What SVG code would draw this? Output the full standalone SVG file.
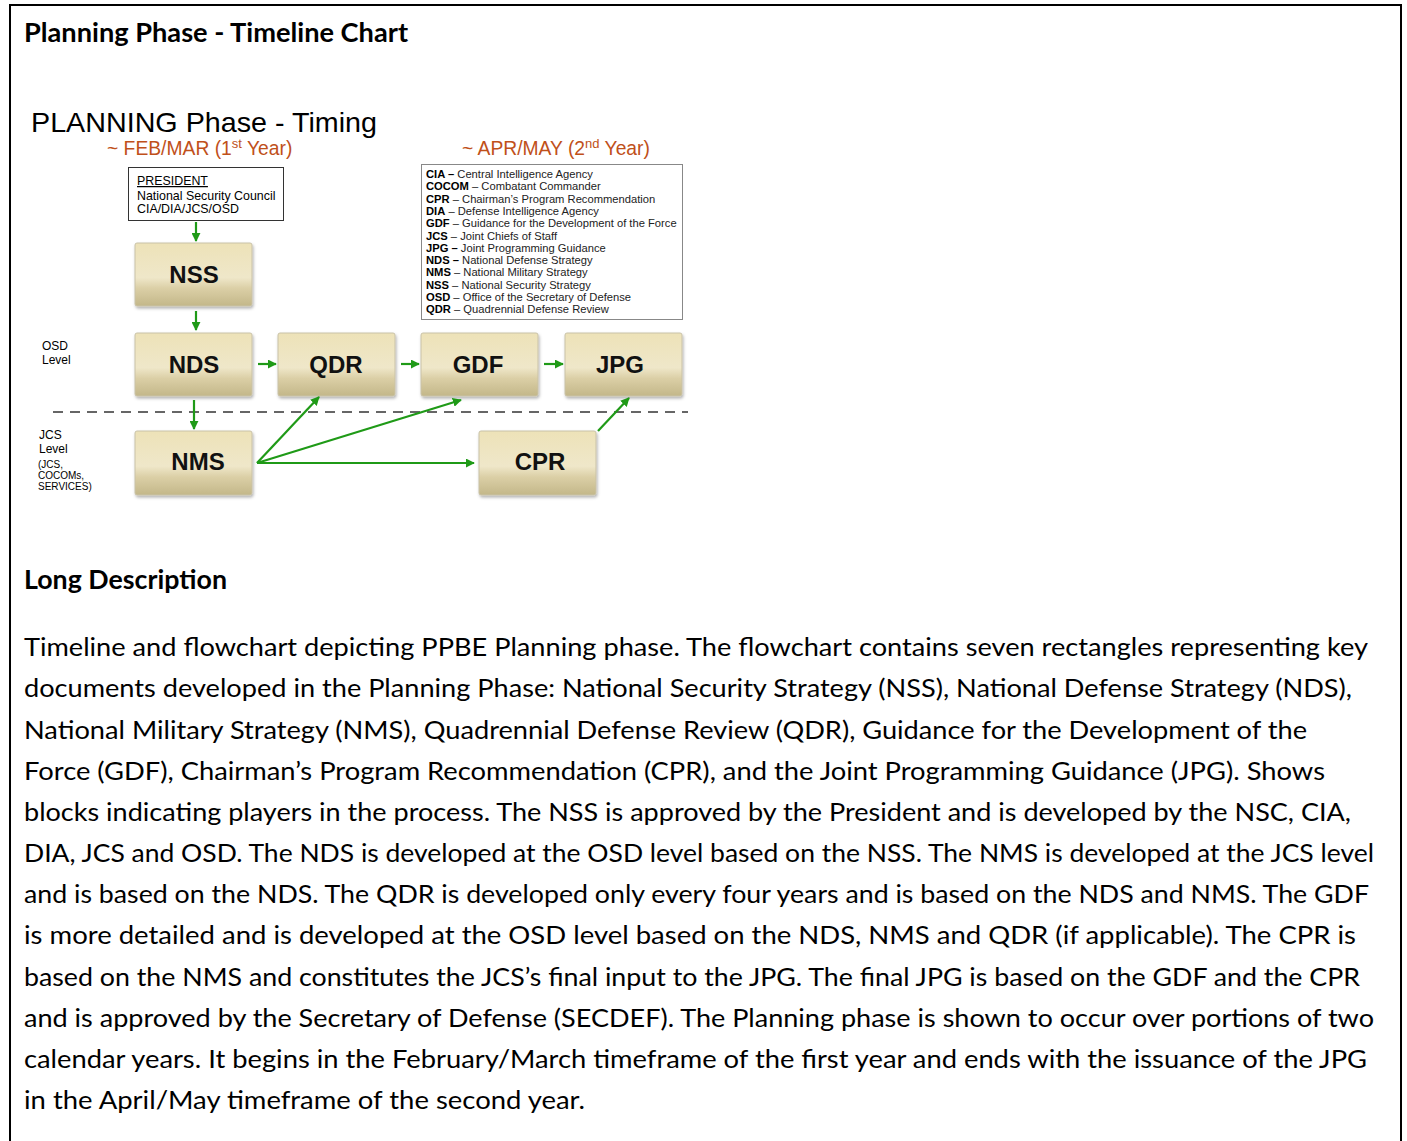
<svg xmlns="http://www.w3.org/2000/svg" width="1407" height="1141" viewBox="0 0 1407 1141">
<defs>
<linearGradient id="beige" x1="0" y1="0" x2="0" y2="1">
<stop offset="0" stop-color="#ede2b8"/>
<stop offset="0.55" stop-color="#efe7c9"/>
<stop offset="0.72" stop-color="#dbcfa6"/>
<stop offset="1" stop-color="#c3b789"/>
</linearGradient>
<filter id="sh" x="-10%" y="-10%" width="125%" height="130%">
<feDropShadow dx="1" dy="2" stdDeviation="1.5" flood-color="#000" flood-opacity="0.3"/>
</filter>
<marker id="ah" viewBox="0 0 10 10" refX="9" refY="5" markerWidth="9" markerHeight="9" markerUnits="userSpaceOnUse" orient="auto">
<path d="M0,0 L10,5 L0,10 Z" fill="#1f9a17"/>
</marker>
</defs>
<style>
.body{font-family:Lato,"Open Sans",sans-serif;font-size:25px;fill:#000}
.hd{font-family:Lato,"Open Sans",sans-serif;font-size:26px;font-weight:bold;fill:#000}
.ar{font-family:"Liberation Sans",Arial,sans-serif;fill:#000}
.org{font-family:"Liberation Sans",Arial,sans-serif;font-size:19.3px;fill:#c0501a}
.node rect{fill:url(#beige);stroke:#c9c2a8;stroke-width:1;filter:url(#sh)}
.node text{font-family:"Liberation Sans",Arial,sans-serif;font-size:24px;font-weight:bold;fill:#111;text-anchor:middle}
.lg{font-family:"Liberation Sans",Arial,sans-serif;font-size:11.2px;fill:#222}
.lg tspan.b{font-weight:bold;fill:#000}
.conn line{stroke:#1f9a17;stroke-width:2.2;marker-end:url(#ah)}
</style>
<rect x="0" y="0" width="1407" height="1141" fill="#fff"/>
<path d="M10,1141 L10,5 L1401,5 L1401,1141" fill="none" stroke="#000" stroke-width="2"/>

<text class="hd" x="24" y="42" textLength="384" lengthAdjust="spacingAndGlyphs">Planning Phase - Timeline Chart</text>

<text class="ar" x="31" y="132" font-size="28.5" textLength="346" lengthAdjust="spacingAndGlyphs">PLANNING Phase - Timing</text>
<text class="org" x="107" y="155">~ FEB/MAR (1<tspan font-size="13" dy="-7">st</tspan><tspan dy="7"> Year)</tspan></text>
<text class="org" x="462" y="155">~ APR/MAY (2<tspan font-size="13" dy="-7">nd</tspan><tspan dy="7"> Year)</tspan></text>

<g id="president">
<rect x="128.5" y="167.5" width="155" height="53" fill="#fff" stroke="#333" stroke-width="1"/>
<text class="ar" font-size="12.4" x="137" y="185" text-decoration="underline">PRESIDENT</text>
<text class="ar" font-size="12.4" x="137" y="200">National Security Council</text>
<text class="ar" font-size="12.4" x="137" y="213">CIA/DIA/JCS/OSD</text>
</g>

<g id="legend">
<rect x="421.5" y="164.5" width="261" height="155" fill="#fff" stroke="#888" stroke-width="1"/>
<text class="lg" x="426" y="178"><tspan class="b">CIA –</tspan> Central Intelligence Agency</text>
<text class="lg" x="426" y="190"><tspan class="b">COCOM</tspan> – Combatant Commander</text>
<text class="lg" x="426" y="203"><tspan class="b">CPR</tspan> – Chairman’s Program Recommendation</text>
<text class="lg" x="426" y="215"><tspan class="b">DIA</tspan> – Defense Intelligence Agency</text>
<text class="lg" x="426" y="227"><tspan class="b">GDF</tspan> – Guidance for the Development of the Force</text>
<text class="lg" x="426" y="240"><tspan class="b">JCS</tspan> – Joint Chiefs of Staff</text>
<text class="lg" x="426" y="252"><tspan class="b">JPG –</tspan> Joint Programming Guidance</text>
<text class="lg" x="426" y="264"><tspan class="b">NDS –</tspan> National Defense Strategy</text>
<text class="lg" x="426" y="276"><tspan class="b">NMS</tspan> – National Military Strategy</text>
<text class="lg" x="426" y="289"><tspan class="b">NSS</tspan> – National Security Strategy</text>
<text class="lg" x="426" y="301"><tspan class="b">OSD</tspan> – Office of the Secretary of Defense</text>
<text class="lg" x="426" y="313"><tspan class="b">QDR</tspan> – Quadrennial Defense Review</text>
</g>

<g id="levels">
<text class="ar" font-size="12" x="42" y="350">OSD</text>
<text class="ar" font-size="12" x="42" y="364">Level</text>
<text class="ar" font-size="12" x="39" y="439">JCS</text>
<text class="ar" font-size="12" x="39" y="453">Level</text>
<text class="ar" font-size="10" x="38" y="468">(JCS,</text>
<text class="ar" font-size="10" x="38" y="479">COCOMs,</text>
<text class="ar" font-size="10" x="38" y="490">SERVICES)</text>
</g>

<line x1="53" y1="412" x2="688" y2="412" stroke="#666" stroke-width="2" stroke-dasharray="10,7"/>

<g id="nss" class="node"><rect x="135" y="243" width="117" height="63" rx="2"/><text x="194" y="283">NSS</text></g>
<g id="nds" class="node"><rect x="135" y="333" width="117" height="63" rx="2"/><text x="194" y="373">NDS</text></g>
<g id="qdr" class="node"><rect x="278" y="333" width="117" height="63" rx="2"/><text x="336" y="373">QDR</text></g>
<g id="gdf" class="node"><rect x="421" y="333" width="117" height="63" rx="2"/><text x="478" y="373">GDF</text></g>
<g id="jpg" class="node"><rect x="565" y="333" width="117" height="63" rx="2"/><text x="620" y="373">JPG</text></g>
<g id="nms" class="node"><rect x="135" y="431" width="117" height="64" rx="2"/><text x="198" y="470">NMS</text></g>
<g id="cpr" class="node"><rect x="479" y="431" width="117" height="64" rx="2"/><text x="540" y="470">CPR</text></g>

<g id="connectors" class="conn">
<line x1="196" y1="222" x2="196" y2="241"/>
<line x1="196" y1="311" x2="196" y2="330"/>
<line x1="258" y1="364" x2="276" y2="364"/>
<line x1="401" y1="364" x2="419" y2="364"/>
<line x1="544" y1="364" x2="563" y2="364"/>
<line x1="194" y1="400" x2="194" y2="429"/>
<line x1="257" y1="463" x2="319" y2="397"/>
<line x1="257" y1="463" x2="461" y2="400"/>
<line x1="257" y1="463" x2="474" y2="463"/>
<line x1="598" y1="431" x2="629" y2="398"/>
</g>

<text class="hd" x="24" y="589" textLength="203" lengthAdjust="spacingAndGlyphs">Long Description</text>

<g class="body">
<text class="body" x="24" y="656" textLength="1344" lengthAdjust="spacingAndGlyphs">Timeline and flowchart depicting PPBE Planning phase. The flowchart contains seven rectangles representing key</text>
<text class="body" x="24" y="697" textLength="1328" lengthAdjust="spacingAndGlyphs">documents developed in the Planning Phase: National Security Strategy (NSS), National Defense Strategy (NDS),</text>
<text class="body" x="24" y="739" textLength="1283" lengthAdjust="spacingAndGlyphs">National Military Strategy (NMS), Quadrennial Defense Review (QDR), Guidance for the Development of the</text>
<text class="body" x="24" y="780" textLength="1301" lengthAdjust="spacingAndGlyphs">Force (GDF), Chairman’s Program Recommendation (CPR), and the Joint Programming Guidance (JPG). Shows</text>
<text class="body" x="24" y="821" textLength="1327" lengthAdjust="spacingAndGlyphs">blocks indicating players in the process. The NSS is approved by the President and is developed by the NSC, CIA,</text>
<text class="body" x="24" y="862" textLength="1350" lengthAdjust="spacingAndGlyphs">DIA, JCS and OSD. The NDS is developed at the OSD level based on the NSS. The NMS is developed at the JCS level</text>
<text class="body" x="24" y="903" textLength="1345" lengthAdjust="spacingAndGlyphs">and is based on the NDS. The QDR is developed only every four years and is based on the NDS and NMS. The GDF</text>
<text class="body" x="24" y="944" textLength="1332" lengthAdjust="spacingAndGlyphs">is more detailed and is developed at the OSD level based on the NDS, NMS and QDR (if applicable). The CPR is</text>
<text class="body" x="24" y="986" textLength="1336" lengthAdjust="spacingAndGlyphs">based on the NMS and constitutes the JCS’s final input to the JPG. The final JPG is based on the GDF and the CPR</text>
<text class="body" x="24" y="1027" textLength="1350" lengthAdjust="spacingAndGlyphs">and is approved by the Secretary of Defense (SECDEF). The Planning phase is shown to occur over portions of two</text>
<text class="body" x="24" y="1068" textLength="1343" lengthAdjust="spacingAndGlyphs">calendar years. It begins in the February/March timeframe of the first year and ends with the issuance of the JPG</text>
<text class="body" x="24" y="1109" textLength="561" lengthAdjust="spacingAndGlyphs">in the April/May timeframe of the second year.</text>
</g>
</svg>
